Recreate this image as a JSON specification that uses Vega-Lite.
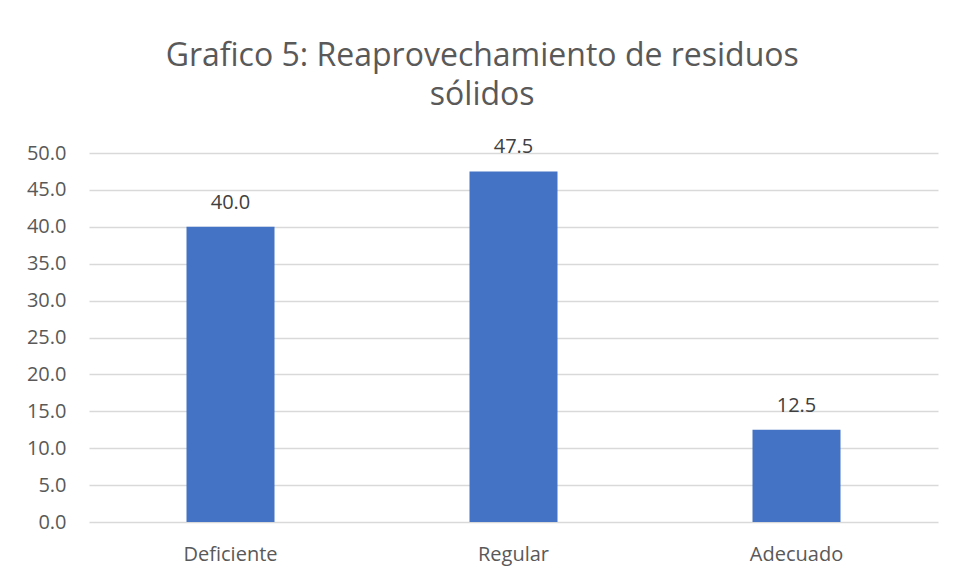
{
  "$schema": "https://vega.github.io/schema/vega-lite/v6.json",
  "width": 849,
  "height": 369,
  "autosize": {"type": "none"},
  "padding": {"left": 89, "top": 153, "right": 17, "bottom": 58},
  "background": "white",
  "title": {
    "text": ["Grafico 5: Reaprovechamiento de residuos", "sólidos"],
    "frame": "bounds",
    "anchor": "middle",
    "font": "Open Sans",
    "fontSize": 32,
    "fontWeight": "normal",
    "color": "#595959",
    "lineHeight": 39,
    "offset": 25
  },
  "data": {
    "values": [
      {"categoria": "Deficiente", "valor": 40.0},
      {"categoria": "Regular", "valor": 47.5},
      {"categoria": "Adecuado", "valor": 12.5}
    ]
  },
  "encoding": {
    "x": {
      "field": "categoria",
      "type": "nominal",
      "sort": null,
      "scale": {"paddingInner": 0, "paddingOuter": 0},
      "axis": {
        "title": null,
        "labelAngle": 0,
        "domain": false,
        "ticks": false,
        "labelPadding": 22,
        "labelFont": "Open Sans",
        "labelFontSize": 20,
        "labelColor": "#595959"
      }
    },
    "y": {
      "field": "valor",
      "type": "quantitative",
      "scale": {"domain": [0, 50], "nice": false},
      "axis": {
        "title": null,
        "values": [0, 5, 10, 15, 20, 25, 30, 35, 40, 45, 50],
        "format": ".1f",
        "domain": false,
        "ticks": false,
        "labelPadding": 23,
        "labelFont": "Open Sans",
        "labelFontSize": 20,
        "labelColor": "#595959",
        "gridColor": "#d9d9d9",
        "gridWidth": 1.3
      }
    }
  },
  "layer": [
    {"mark": {"type": "bar", "size": 88, "color": "#4472C4"}},
    {
      "mark": {"type": "text", "baseline": "alphabetic", "dy": -18, "font": "Open Sans", "fontSize": 20, "color": "#404040"},
      "encoding": {"text": {"field": "valor", "type": "quantitative", "format": ".1f"}}
    }
  ],
  "config": {"view": {"stroke": null}}
}
